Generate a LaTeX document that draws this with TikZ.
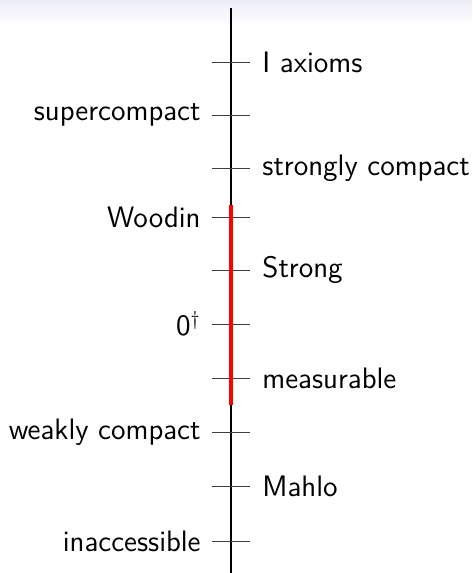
\documentclass[tikz,border=0pt]{standalone}
\usepackage{tikz}
\definecolor{bandtop}{RGB}{236,236,246}
\begin{document}
\begin{tikzpicture}[x=0.5pt,y=-0.5pt,
  lbl/.style={font=\sffamily\fontsize{14.8}{17}\selectfont, inner sep=0pt},
  rlbl/.style={lbl, anchor=west},
  llbl/.style={lbl, anchor=east},
  tick/.style={line width=0.5pt, black!75}]
\useasboundingbox (0,0) rectangle (472,573);
% header band
\shade[top color=bandtop, bottom color=white] (0,0) rectangle (472,26);
% main axis
\coordinate (top) at (231,8);
\coordinate (bot) at (231,573);
\draw[line width=0.55pt] (top) -- (bot);
% levels
\foreach \n/\y in {1/62,2/115,3/168,4/217,5/270,6/324,7/378,8/432,9/486,10/541}{
  \coordinate (t\n) at (231,\y);
  \draw[tick] ([xshift=-9.5pt]t\n) -- ([xshift=9.5pt]t\n);
}
% highlighted segment
\coordinate (rtop) at (231,205);
\coordinate (rbot) at (231,405);
\draw[red, line width=1.6pt] (rtop) -- (rbot);
% labels
\node[rlbl] (l1) at ([xshift=15.5pt]t1) {I axioms};
\node[llbl] (l2) at ([xshift=-15pt]t2) {supercompact};
\node[rlbl] (l3) at ([xshift=15.5pt]t3) {strongly compact};
\node[llbl] (l4) at ([xshift=-15pt]t4) {Woodin};
\node[rlbl] (l5) at ([xshift=15.5pt]t5) {Strong};
\node[llbl] (l6) at ([xshift=-15pt]t6) {0$^{\dagger}$};
\node[rlbl] (l7) at ([xshift=15.5pt]t7) {measurable};
\node[llbl] (l8) at ([xshift=-15pt]t8) {weakly compact};
\node[rlbl] (l9) at ([xshift=15.5pt]t9) {Mahlo};
\node[llbl] (l10) at ([xshift=-15pt]t10) {inaccessible};
\end{tikzpicture}
\end{document}
